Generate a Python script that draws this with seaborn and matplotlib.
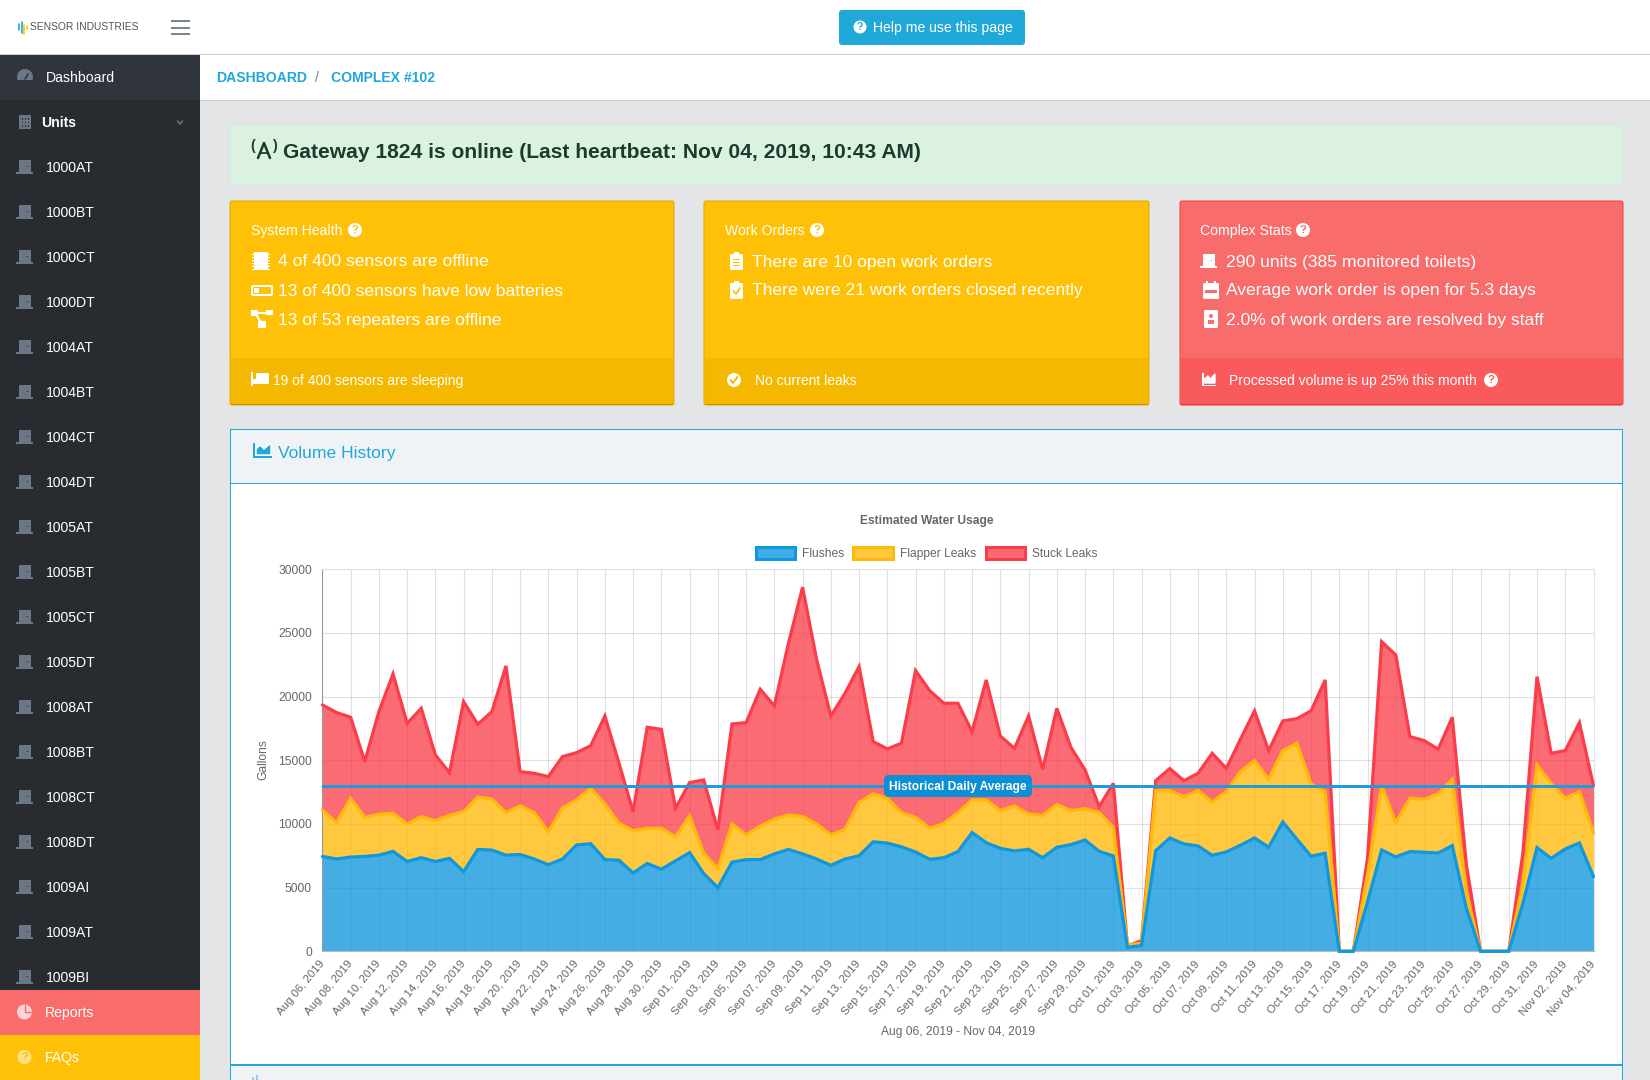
import numpy as np
import pandas as pd
import seaborn as sb
import matplotlib.pyplot as plt
from matplotlib.patches import Rectangle, Circle, FancyBboxPatch, Polygon

# stacked tops, one value per day
flushes = [7450, 7250, 7400, 7450, 7550, 7850, 7050, 7350, 7050, 7300, 6250, 8000, 7950, 7550, 7600, 7250,
           6800, 7250, 8350, 8450, 7200, 7150, 6150, 6900, 6450, 7100, 7750, 6100, 5000, 7000, 7200, 7200,
           7650, 8000, 7650, 7250, 6750, 7250, 7500, 8600, 8500, 8200, 7800, 7220, 7350, 7830, 9320, 8530,
           8090, 7880, 8010, 7350, 8170, 8380, 8740, 7850, 7490, 310, 450, 7900, 8900, 8430, 8270, 7540,
           7800, 8330, 8900, 8170, 10160, 8800, 7460, 7700, 0, 0, 3900, 7960, 7410, 7830, 7780, 7720,
           8300, 3380, 0, 0, 0, 3770, 8140, 7300, 8040, 8510, 5860]
flapper_top = [11100, 10100, 12020, 10520, 10760, 10840, 10000, 10580, 10260, 10680, 10970, 12100, 11960, 10890, 11440, 10890,
               9400, 11260, 11890, 12800, 11570, 10050, 9480, 9660, 9660, 9000, 10630, 7700, 6500, 10000, 9140, 9840,
               10370, 10710, 10580, 10000, 9140, 9580, 11700, 12360, 12020, 10890, 10520, 9660, 10050, 10890, 11890, 11890,
               11050, 11410, 10790, 10680, 11520, 11050, 11200, 10890, 9740, 520, 630, 12620, 12620, 12150, 12620, 11730,
               12540, 14110, 14980, 13510, 15760, 16340, 13140, 12540, 0, 0, 6000, 12990, 10100, 12020, 11940, 12360,
               13510, 4700, 0, 0, 0, 5340, 14630, 13190, 12020, 12540, 9320]
stuck_top = [19350, 18750, 18380, 14900, 18820, 21780, 17900, 19080, 15420, 14030, 19610, 17830, 18820, 22410, 14110, 13980,
             13720, 15290, 15600, 16150, 18480, 14770, 10970, 17590, 17430, 11230, 13250, 13460, 9530, 17850, 17960, 20580,
             19270, 24190, 28590, 22880, 18480, 20260, 22360, 16470, 15890, 16340, 22040, 20470, 19480, 19480, 17250, 21310,
             16910, 15940, 18480, 14290, 19080, 16020, 14240, 11360, 13190, 420, 840, 13400, 14350, 13400, 13980, 15550,
             14370, 16650, 18880, 15760, 18090, 18270, 18880, 21310, 0, 0, 7300, 24320, 23270, 16860, 16550, 15870,
             18380, 6780, 0, 0, 0, 7700, 21570, 15550, 15760, 17960, 12990]
historical_avg = 12960
y_ticks = [0, 5000, 10000, 15000, 20000, 25000, 30000]

unit_names = ["1000AT", "1000BT", "1000CT", "1000DT", "1004AT", "1004BT", "1004CT", "1004DT", "1005AT", "1005BT",
              "1005CT", "1005DT", "1008AT", "1008BT", "1008CT", "1008DT", "1009AI", "1009AT", "1009BI"]

BLUE, YELLOW, RED = "#0f98dd", "#ffb909", "#fb3c49"
F_BLUE, F_YELLOW, F_RED = "#3fade4", "#ffc73a", "#fd6871"
CYAN = "#20a8d8"
GREY = "#666666"

W, H = 1650, 1080


def pt(px):
    return px * 0.72


sb.set_theme(style="whitegrid")
plt.rcParams["font.family"] = ["Liberation Sans", "DejaVu Sans"]

fig = plt.figure(figsize=(W / 100, H / 100), dpi=100)
bg = fig.add_axes([0, 0, 1, 1], zorder=0)
bg.set_xlim(0, W)
bg.set_ylim(H, 0)
bg.axis("off")


def rect(x0, y0, x1, y1, color, **kw):
    bg.add_patch(Rectangle((x0, y0), x1 - x0, y1 - y0, facecolor=color, edgecolor="none", **kw))


def rrect(x0, y0, x1, y1, color, r=3, **kw):
    kw.setdefault("edgecolor", "none")
    bg.add_patch(FancyBboxPatch((x0 + r, y0 + r), x1 - x0 - 2 * r, y1 - y0 - 2 * r,
                                boxstyle=f"round,pad={r},rounding_size={r}", facecolor=color, **kw))


def txt(x, y, s, size=14, color="white", weight="normal", ha="left", **kw):
    bg.text(x, y + 2, s, fontsize=pt(size), color=color, fontweight=weight, ha=ha, va="center", **kw)


def question(x, y, fg, r=7, color="white"):
    bg.add_patch(Circle((x, y), r, facecolor=color, edgecolor="none"))
    txt(x, y - 1.7, "?", size=r * 1.6, color=fg, weight="bold", ha="center")


def door(x, y, color="#6b7785", dot="#20242a"):
    rect(x + 3, y - 7, x + 15, y + 5, color)
    rect(x, y + 5, x + 17, y + 7, color)
    rect(x + 10.5, y - 1.5, x + 12, y, dot)


def check(x, y, fg):
    bg.add_patch(Circle((x, y), 7, facecolor="white", edgecolor="none"))
    bg.plot([x - 3.5, x - 1, x + 3.5], [y, y + 3, y - 3], color=fg, lw=1.4)


# page chrome
rect(0, 0, W, H, "#e4e5e6")
rect(0, 0, W, 54, "white")
rect(200, 54, W, 100, "white")
rect(0, 54, W, 55, "#c8ced3")
rect(200, 100, W, 101, "#c8ced3")

# logo and burger
for lx, ly0, ly1, lc in [(19, 24, 30, "#20a8d8"), (21.5, 22, 33, "#20a8d8"), (24, 25, 34, "#ffc107"), (26.5, 26, 29, "#ffc107")]:
    bg.plot([lx, lx], [ly0, ly1], color=lc, lw=1.2)
txt(30, 25.5, "SENSOR INDUSTRIES", size=10.2, color="#555555")
for by in (21, 27.5, 34):
    rect(171, by - 1, 190, by + 1, "#7a8591")

# help button
rrect(839, 10, 1025, 45, CYAN, r=3)
question(860, 27, CYAN, r=6.5)
txt(873, 26, "Help me use this page", size=14)

# breadcrumb
txt(216, 76, "DASHBOARD", size=14, color=CYAN, weight="bold")
txt(315, 76, "/", size=14, color="#73818f")
txt(331, 76, "COMPLEX #102", size=14, color=CYAN, weight="bold")

# sidebar
rect(0, 55, 200, 990, "#282c31")
rect(0, 55, 200, 100, "#30353d")
bg.add_patch(Circle((25, 77), 8, facecolor="#6b7785", edgecolor="none"))
rect(16, 80, 34, 86, "#30353d")
bg.plot([25, 28], [79, 74], color="#30353d", lw=1.2)
txt(46, 76, "Dashboard", size=14)
rect(19, 115, 31, 129, "#6b7785")
for gx in (21.5, 24.5, 27.5):
    for gy in (118, 121.5, 125):
        rect(gx, gy, gx + 1.5, gy + 1.5, "#282c31")
txt(41, 121, "Units", size=14, weight="bold")
bg.plot([177.5, 180, 182.5], [121, 124, 121], color="#6b7785", lw=1.1)
for i, name in enumerate(unit_names):
    door(16, 167 + 45 * i)
    txt(46, 166 + 45 * i, name, size=14)
rect(0, 990, 200, 1035, "#f86c6b")
rect(0, 1035, 200, H, "#ffc107")
bg.add_patch(Circle((24.5, 1012), 7.5, facecolor="#fdd4d4", edgecolor="none"))
bg.plot([25, 25, 32], [1005, 1012, 1012], color="#f86c6b", lw=1)
txt(45, 1011, "Reports", size=14)
question(24.5, 1057, "#ffc107", r=7, color="#ffe083")
txt(45, 1056, "FAQs", size=14)

# alert
rrect(230, 125, 1623, 184, "#dbf2e3", r=2, edgecolor="#cfeedb", linewidth=0.7)
txt(283, 150, "Gateway 1824 is online (Last heartbeat: Nov 04, 2019, 10:43 AM)", size=21, color="#1b3c2a", weight="bold")
bg.plot([258, 264, 270], [158, 143, 158], color="#1b3c2a", lw=1.8)
bg.plot([260.5, 267.5], [153, 153], color="#1b3c2a", lw=1.3)
txt(250, 144, "(", size=14, color="#1b3c2a", weight="bold")
txt(273, 144, ")", size=14, color="#1b3c2a", weight="bold")

# stat cards
cards = [(230, 674, "#ffc107", "#f5b800", "#e2a900", "#c69500"),
         (704, 1149, "#ffc107", "#f5b800", "#e2a900", "#c69500"),
         (1180, 1623, "#f86c6b", "#f95a5c", "#f63c3a", "#f5302e")]
for x0, x1, c, foot, edge, low in cards:
    rrect(x0, 201, x1, 405, c, r=2, edgecolor=edge, linewidth=0.7)
    rect(x0 + 1, 358, x1 - 1, 403.5, foot)
    rect(x0 + 1, 403.5, x1 - 1, 405, low)

txt(251, 229, "System Health", size=14)
question(355, 230, "#ffc107")
txt(725, 229, "Work Orders", size=14)
question(817, 230, "#ffc107")
txt(1200, 229, "Complex Stats", size=14)
question(1303, 230, "#f86c6b")

txt(278, 260, "4 of 400 sensors are offline", size=17.45)
txt(278, 289, "13 of 400 sensors have low batteries", size=17.45)
txt(278, 318, "13 of 53 repeaters are offline", size=17.45)
txt(752, 260, "There are 10 open work orders", size=17.45)
txt(752, 289, "There were 21 work orders closed recently", size=17.45)
txt(1226, 260, "290 units (385 monitored toilets)", size=17.45)
txt(1226, 289, "Average work order is open for 5.3 days", size=17.45)
txt(1226, 318, "2.0% of work orders are resolved by staff", size=17.45)
txt(273, 379, "19 of 400 sensors are sleeping", size=13.9)
txt(755, 379, "No current leaks", size=13.9)
txt(1229, 379, "Processed volume is up 25% this month", size=13.9)
question(1491, 380, "#f95a5c")
check(734, 380, "#f5b800")

# card icons
rect(254, 252, 268, 270, "white")
for cy in range(254, 270, 3):
    rect(252, cy, 270, cy + 1.3, "white")
rrect(251, 285, 273, 296, "white", r=2)
rect(253, 287, 271, 294, "#ffc107")
rect(254, 288, 259, 293, "white")
rect(251, 310, 258, 316, "white")
rect(266, 310, 273, 315, "white")
rect(258, 321, 266, 328, "white")
bg.plot([255, 262], [313, 324], color="white", lw=1.5)
bg.plot([255, 269], [313, 313], color="white", lw=1.5)
rect(251, 372, 253, 386, "white")
rect(253, 379, 269, 384, "white")
rect(256, 373, 269, 379, "white")
rrect(730, 254, 743, 270, "white", r=1.5)
rect(734, 252, 739, 256, "white")
for cy in (259, 262, 265):
    rect(733, cy, 740, cy + 1, "#ffc107")
rrect(730, 283, 743, 299, "white", r=1.5)
rect(734, 281, 739, 285, "white")
bg.plot([733.5, 736, 740], [291, 294, 288], color="#ffc107", lw=1.3)
door(1200, 261, color="white", dot="#f86c6b")
rrect(1203, 283, 1219, 299, "white", r=1.5)
rect(1206, 281, 1208, 285, "white")
rect(1214, 281, 1216, 285, "white")
rect(1205, 290, 1217, 293, "#f86c6b")
rrect(1204, 310, 1218, 328, "white", r=1.5)
bg.add_patch(Circle((1211, 316), 2, facecolor="#f86c6b", edgecolor="none"))
rect(1208, 320, 1214, 324, "#f86c6b")
rect(1202, 373, 1203.5, 386, "white")
rect(1202, 384.5, 1216, 386, "white")
bg.add_patch(Polygon([[1204.5, 383], [1204.5, 379], [1208, 376], [1210.5, 379], [1215, 374], [1215, 383]], facecolor="white"))

# chart panel
rect(230, 429, 1623, H, CYAN)
rect(231, 430, 1622, 483, "#f0f3f5")
rect(231, 484, 1622, 1063.5, "white")
rect(231, 1065.5, 1622, H, "#f0f3f5")
rect(253, 443, 255, 458, CYAN)
rect(253, 456, 272, 458, CYAN)
bg.add_patch(Polygon([[256, 455], [256, 449], [260, 445], [264, 449], [271, 443], [271, 455]], facecolor=CYAN))
txt(278, 451.5, "Volume History", size=17.5, color=CYAN)
rect(252, 1077, 254, H, "#a9c4e0")
rect(256, 1075, 258, H, "#a9c4e0")

# chart
dates = pd.date_range("2019-08-06", "2019-11-04")
df = pd.DataFrame({"date": dates, "Flushes": flushes, "Flapper Leaks": flapper_top, "Stuck Leaks": stuck_top})
long_df = df.melt(id_vars="date", var_name="series", value_name="gallons")

x0, x1, y0, y1 = 322.4, 1593.5, 569.3, 951.3
ax = fig.add_axes([x0 / W, 1 - y1 / H, (x1 - x0) / W, (y1 - y0) / H], zorder=1)
ax.patch.set_alpha(0)
ax.set_axisbelow(True)
ax.grid(True, color="black", alpha=0.12, lw=0.8)
ax.fill_between(df["date"], 0, df["Flushes"], color=BLUE, alpha=0.78, lw=0)
ax.fill_between(df["date"], df["Flushes"], df["Flapper Leaks"], color=YELLOW, alpha=0.78, lw=0)
ax.fill_between(df["date"], df["Flapper Leaks"], df["Stuck Leaks"], color=RED, alpha=0.76, lw=0)
sb.lineplot(data=long_df, x="date", y="gallons", hue="series", ax=ax, legend=False,
            hue_order=["Stuck Leaks", "Flapper Leaks", "Flushes"],
            palette={"Stuck Leaks": RED, "Flapper Leaks": YELLOW, "Flushes": BLUE},
            lw=pt(3.2), solid_joinstyle="miter", clip_on=False, zorder=3)
ax.axhline(historical_avg, color="#1f9bdc", lw=pt(3), zorder=4)
ax.set_xlim(dates[0], dates[-1])
ax.set_ylim(0, 30000)
ax.set_xticks(dates[::2])
ax.set_xticklabels(dates[::2].strftime("%b %d, %Y"), rotation=50, ha="right", va="center",
                   rotation_mode="anchor", fontsize=pt(11.4), color=GREY)
ax.set_yticks(y_ticks)
ax.set_yticklabels(y_ticks, fontsize=pt(12), color=GREY)
ax.tick_params(axis="both", length=pt(9), width=0.8, color="#cccccc", pad=pt(1.5))
ax.set_xlabel("")
ax.set_ylabel("")
for side, sp in ax.spines.items():
    sp.set_color({"top": "#e2e2e2", "right": "#e2e2e2", "left": "#999999", "bottom": "#bbbbbb"}[side])
    sp.set_linewidth(0.8)

# chart texts sit above the panel
ov = fig.add_axes([0, 0, 1, 1], zorder=2)
ov.set_xlim(0, W)
ov.set_ylim(H, 0)
ov.axis("off")
ov.patch.set_alpha(0)
bg = ov
rrect(884, 775, 1032, 797, "#0d8fd5", r=5)
txt(958, 785, "Historical Daily Average", size=12, weight="bold", ha="center")
txt(926.5, 519, "Estimated Water Usage", size=12, color=GREY, weight="bold", ha="center")
txt(958, 1030, "Aug 06, 2019 - Nov 04, 2019", size=12, color=GREY, ha="center")
txt(263, 758, "Gallons", size=12, color=GREY, ha="center", rotation=90)
for sx0, sx1, edge, face, label in [(754.5, 797, BLUE, F_BLUE, "Flushes"), (852, 895, YELLOW, F_YELLOW, "Flapper Leaks"),
                                    (985, 1027, RED, F_RED, "Stuck Leaks")]:
    rect(sx0, 546, sx1, 561, edge)
    rect(sx0 + 3, 549, sx1 - 3, 558, face)
    txt(sx1 + 5, 552, label, size=12, color=GREY)

fig.savefig("out.png", dpi=100)
